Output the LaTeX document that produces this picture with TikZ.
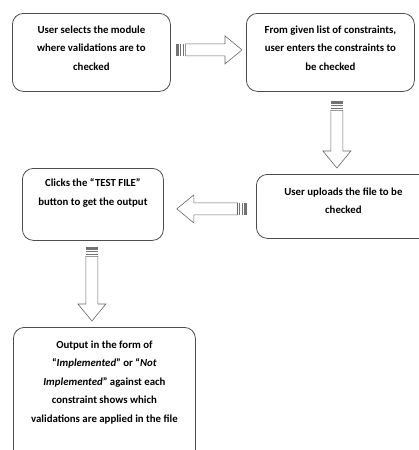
\documentclass[tikz,border=0pt]{standalone}
\usepackage{fontspec}
\setmainfont{Carlito}
\usetikzlibrary{calc}

\tikzset{stepbox/.style={draw=black!70,line width=0.8pt,rounded corners=11pt,inner sep=0pt,anchor=north west,font=\bfseries\fontsize{10.8}{18.5}\selectfont}}
\tikzset{flow/.style={draw=black!60,line width=0.6pt,fill=white}}

% box text: width, height, top gap, text
\newcommand{\steptext}[4]{\parbox[c][#2pt][t]{#1pt}{\centering\vspace*{#3pt}#4\par}}

% block arrow with striped tail, from #1 to #2
\newcommand{\flowarrow}[2]{%
\path let \p1=($(#2)-(#1)$) in \pgfextra{\pgfmathparse{veclen(\x1,\y1)}\xdef\arrlen{\pgfmathresult}\pgfmathparse{atan2(\y1,\x1)}\xdef\arrang{\pgfmathresult}};
\begin{scope}[shift={(#1)},rotate=\arrang]
\fill[black!55] (0,-6) rectangle (3,6);
\draw[black!55,line width=0.8pt] (5,-6) -- (5,6) (7.5,-6) -- (7.5,6);
\draw[flow] (9.5,-6) -- (\arrlen-17,-6) -- (\arrlen-17,-14) -- (\arrlen,0) -- (\arrlen-17,14) -- (\arrlen-17,6) -- (9.5,6) -- cycle;
\end{scope}}

\begin{document}
\begin{tikzpicture}[x=1pt,y=-1pt]
\useasboundingbox (0,0) rectangle (419,450);
\clip (0,0) rectangle (419,450);
% steps
\node[stepbox] (select) at (12,13) {\steptext{158}{78}{12.4}{User selects the module\\where validations are to\\checked}};
\node[stepbox] (enter) at (246,13) {\steptext{168}{78}{12.4}{From given list of constraints,\\user enters the constraints to\\be checked}};
\node[stepbox] (upload) at (256,174) {\steptext{174}{64}{13.4}{User uploads the file to be\\checked}};
\node[stepbox] (test) at (22,168) {\steptext{141}{72}{10.4}{Clicks the “TEST FILE”\\button to get the output}};
\node[stepbox] (output) at (13,327) {\steptext{182}{140}{13.4}{Output in the form of\\“\textit{Implemented}” or “\textit{Not}\\\textit{Implemented}” against each\\constraint shows which\\validations are applied in the file}};
% arrow ends
\coordinate (a1s) at ($(select.east)+(5,-2.5)$);
\coordinate (a1e) at ($(a1s -| enter.west)+(-4,0)$);
\coordinate (a2s) at ($(enter.south)+(6.5,9)$);
\coordinate (a2e) at ($(a2s |- upload.north)+(0,-6)$);
\coordinate (a3s) at ($(upload.west)+(-9,2.5)$);
\coordinate (a3e) at ($(a3s -| test.east)+(13,0)$);
\coordinate (a4s) at ($(test.south)+(-1,6)$);
\coordinate (a4e) at ($(a4s |- output.north)+(0,-6)$);
\flowarrow{a1s}{a1e}
\flowarrow{a2s}{a2e}
\flowarrow{a3s}{a3e}
\flowarrow{a4s}{a4e}
\end{tikzpicture}
\end{document}
